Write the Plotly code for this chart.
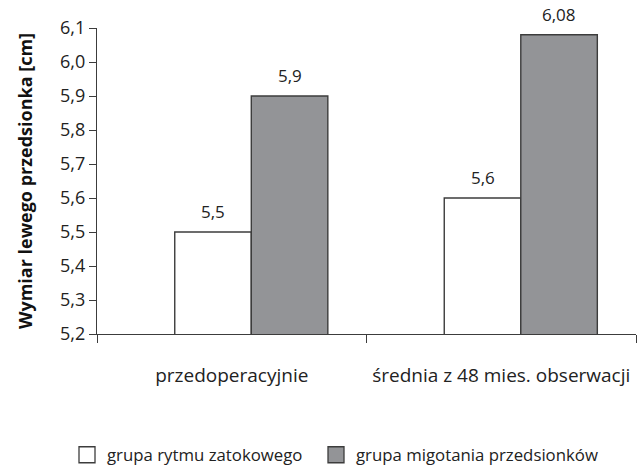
import plotly.graph_objects as go

# Left atrial dimension [cm] before surgery and averaged over 48 months of follow-up
categories = ["przedoperacyjnie", "średnia z 48 mies. obserwacji"]
series_names = ["grupa rytmu zatokowego", "grupa migotania przedsionków"]
sinus_rhythm = [5.5, 5.6]
atrial_fibrillation = [5.9, 6.08]
y_ticks = [5.2, 5.3, 5.4, 5.5, 5.6, 5.7, 5.8, 5.9, 6.0, 6.1]

values = [sinus_rhythm, atrial_fibrillation]
fills = ["#ffffff", "#939497"]
edge = "#3c3c3c"
text_col = "#222222"
font_family = "Open Sans, Noto Sans, sans-serif"

bar_width = 0.284
offsets = [-0.2115, 0.0725]
legend_ids = ["legend", "legend2"]
legend_x = [67, 316]

fig = go.Figure()
for name, vals, fill, off, lg in zip(series_names, values, fills, offsets, legend_ids):
    fig.add_trace(go.Bar(
        x=categories, y=vals, name=name,
        width=bar_width, offset=off,
        marker=dict(color=fill, line=dict(color=edge, width=1.4)),
        showlegend=False,
    ))
    # value labels above each bar
    for i, v in enumerate(vals):
        fig.add_annotation(
            x=i + off + bar_width / 2, y=v, xref="x", yref="y",
            text=str(v).replace(".", ","), showarrow=False,
            yanchor="bottom", yshift=7,
            font=dict(size=17, color=text_col, family=font_family),
        )
    # legend swatch
    fig.add_trace(go.Scatter(
        x=[None], y=[None], mode="markers", name=name, legend=lg,
        marker=dict(symbol="square", size=18, color=fill,
                    line=dict(color=edge, width=1.3)),
    ))

legend_style = dict(
    orientation="h", xanchor="left",
    yref="container", y=0.024, yanchor="middle", xref="container",
    font=dict(size=16.8, color=text_col, family=font_family),
    itemclick=False, bgcolor="rgba(0,0,0,0)",
)

fig.update_layout(
    width=639, height=466,
    margin=dict(l=97, r=3, t=28, b=132),
    paper_bgcolor="white", plot_bgcolor="white",
    barmode="overlay",
    separators=", ",
    font=dict(family=font_family, color=text_col),
    showlegend=True,
    legend=dict(x=legend_x[0] / 639, **legend_style),
    legend2=dict(x=legend_x[1] / 639, **legend_style),
)

fig.update_xaxes(
    type="category", tickson="boundaries",
    range=[-0.5, 1.5], automargin=False, tickangle=0,
    showline=True, linecolor=edge, linewidth=1.4,
    ticks="outside", ticklen=8, tickcolor=edge, tickwidth=1.4,
    tickfont=dict(size=19, color=text_col, family=font_family),
    ticklabelstandoff=24,
    showgrid=False, zeroline=False,
)
fig.update_yaxes(
    range=[5.2, 6.1], tickvals=y_ticks, tickformat=".1f", automargin=False,
    showline=True, linecolor=edge, linewidth=1.4,
    ticks="outside", ticklen=7, tickcolor=edge, tickwidth=1.4,
    tickfont=dict(size=18, color=text_col, family=font_family),
    showgrid=False, zeroline=False,
    title=dict(text="<b>Wymiar lewego przedsionka [cm]</b>",
               font=dict(size=18, color="#111111", family=font_family),
               standoff=22),
)

fig.write_html("out.html")
